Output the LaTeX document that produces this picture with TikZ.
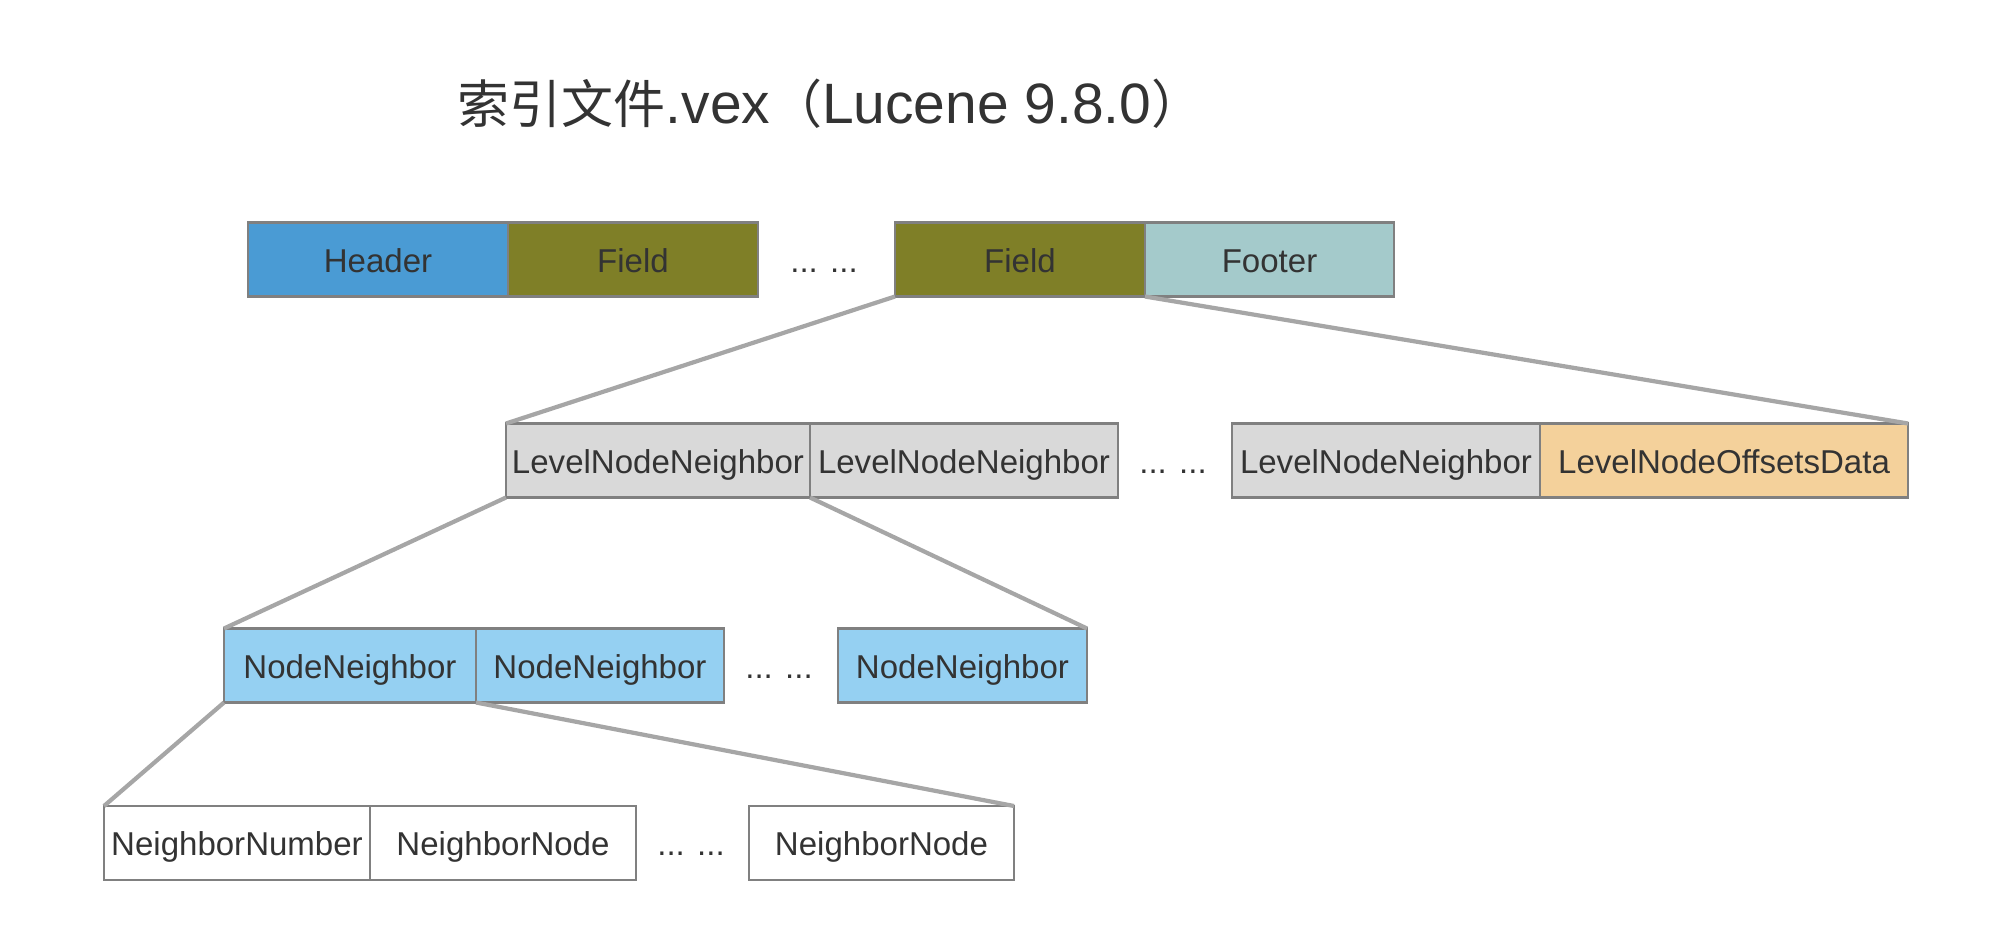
\documentclass[tikz,border=0pt]{standalone}
\usepackage{fontspec}
\setmainfont{Liberation Sans}
\newfontfamily\cjk{Noto Sans CJK SC}
\definecolor{txtgray}{HTML}{333333}
\definecolor{boxgray}{HTML}{808080}
\definecolor{linkgray}{HTML}{A6A6A6}
\definecolor{hdrblue}{HTML}{4A9BD4}
\definecolor{fieldolive}{HTML}{7F7F27}
\definecolor{footteal}{HTML}{A4CACB}
\definecolor{levelgray}{HTML}{D9D9D9}
\definecolor{offsetorange}{HTML}{F4D19B}
\definecolor{nodeblue}{HTML}{95D0F2}
\begin{document}
\begin{tikzpicture}[
    cell/.style={draw=boxgray, line width=0.8pt, minimum height=0.74cm,
                 inner sep=0pt, outer sep=0pt, text=txtgray,
                 text height=0.716em, text depth=0pt,
                 font=\fontsize{9.4}{11}\selectfont},
    gap/.style={text=txtgray, inner sep=0pt, text height=0.716em, text depth=0pt,
                font=\fontsize{9.4}{11}\selectfont},
    link/.style={draw=linkgray, line width=1.2pt}]
\useasboundingbox (0,0) rectangle (20.04,-9.44);
\node[text=txtgray, anchor=base west, inner sep=0pt, font=\fontsize{16.2}{19}\selectfont] (title) at (4.57,-1.23)
    {{\fontsize{14.8}{17}\selectfont\cjk 索引文件}.vex{\fontsize{14.8}{17}\selectfont\cjk （}Lucene 9.8.0{\fontsize{14.8}{17}\selectfont\cjk ）}};
% row 1
\foreach \n/\x/\w/\c/\t in {hdr/3.78/2.60/hdrblue/Header, fld1/6.33/2.50/fieldolive/Field,
                            fld2/10.20/2.50/fieldolive/Field, ftr/12.695/2.49/footteal/Footer}
    \node[cell, fill=\c, minimum width=\w cm] (\n) at (\x,-2.595) {\t};
\node[gap] (dots1) at (8.24,-2.595) {... ...};
% row 2
\foreach \n/\x/\w/\c/\t in {lnn1/6.58/3.04/levelgray/LevelNodeNeighbor, lnn2/9.64/3.08/levelgray/LevelNodeNeighbor,
                            lnn3/13.86/3.08/levelgray/LevelNodeNeighbor, lnod/17.24/3.68/offsetorange/LevelNodeOffsetsData}
    \node[cell, fill=\c, minimum width=\w cm] (\n) at (\x,-4.605) {\t};
\node[gap] (dots2) at (11.73,-4.605) {... ...};
% row 3
\foreach \n/\x/\w in {nn1/3.50/2.52, nn2/6.00/2.48, nn3/9.625/2.49}
    \node[cell, fill=nodeblue, minimum width=\w cm] (\n) at (\x,-6.655) {NodeNeighbor};
\node[gap] (dots3) at (7.79,-6.655) {... ...};
% row 4
\foreach \n/\x/\w/\t in {nb/2.37/2.66/NeighborNumber, nd1/5.03/2.66/NeighborNode, nd2/8.815/2.65/NeighborNode}
    \node[cell, fill=white, minimum width=\w cm] (\n) at (\x,-8.43) {\t};
\node[gap] (dots4) at (6.91,-8.43) {... ...};
% links
\foreach \a/\b in {fld2.south west/lnn1.north west, ftr.south west/lnod.north east,
                   lnn1.south west/nn1.north west, lnn2.south west/nn3.north east,
                   nn1.south west/nb.north west, nn2.south west/nd2.north east}
    \draw[link] (\a) -- (\b);
\end{tikzpicture}
\end{document}
